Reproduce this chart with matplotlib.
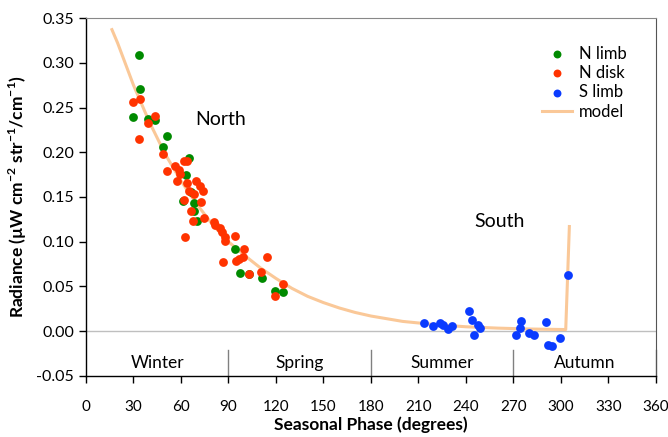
import matplotlib
matplotlib.use("Agg")
import matplotlib.pyplot as plt

plt.rcParams['font.family'] = ['Lato', 'DejaVu Sans']
plt.rcParams['mathtext.fontset'] = 'custom'
plt.rcParams['mathtext.rm'] = 'Lato'
plt.rcParams['mathtext.bf'] = 'Lato:bold'

# ---- data ----
nlimb_phase = [33.7, 34.3, 29.7, 39.0, 43.6, 51.0, 48.6, 65.0, 63.0, 66.5, 68.4, 68.4,
               69.9, 61.5, 94.1, 97.3, 103.2, 110.9, 119.6, 124.4]
nlimb_rad = [0.309, 0.271, 0.239, 0.2375, 0.236, 0.218, 0.206, 0.1935, 0.175, 0.156, 0.1435,
             0.134, 0.1234, 0.146, 0.0914, 0.0649, 0.0645, 0.060, 0.0455, 0.0436]

ndisk_phase = [29.7, 34.3, 43.6, 39.0, 33.7, 48.6, 51.0, 61.7, 63.6, 56.4, 58.7, 59.4, 57.7,
               63.6, 69.5, 71.8, 74.1, 65.3, 68.4, 61.9, 72.4, 66.1, 67.8, 74.7, 80.9, 81.3,
               84.6, 85.9, 88.0, 88.0, 62.3, 94.1, 100.0, 86.7, 94.8, 96.9, 99.4, 114.5,
               103.2, 110.5, 124.6, 119.6]
ndisk_rad = [0.256, 0.259, 0.240, 0.233, 0.215, 0.198, 0.179, 0.1905, 0.1905, 0.185, 0.180,
             0.176, 0.168, 0.166, 0.168, 0.162, 0.157, 0.157, 0.153, 0.147, 0.144, 0.134,
             0.123, 0.127, 0.122, 0.1186, 0.115, 0.111, 0.1055, 0.1007, 0.1055, 0.106, 0.092,
             0.0775, 0.0783, 0.0805, 0.0824, 0.0828, 0.0645, 0.0657, 0.0529, 0.039]

slimb_phase = [213.7, 219.0, 223.6, 225.7, 228.5, 231.0, 242.0, 243.8, 247.8, 248.7, 245.3,
               274.8, 274.2, 271.6, 279.7, 283.2, 290.4, 291.6, 294.1, 299.6, 304.7]
slimb_rad = [0.0093, 0.0056, 0.0093, 0.0067, 0.0030, 0.0056, 0.0224, 0.0123, 0.0067, 0.0041,
             -0.0037, 0.0112, 0.0034, -0.0045, -0.0019, -0.0045, 0.0104, -0.0157, -0.016,
             -0.007, 0.063]

model_phase = [16.4, 20, 30, 40, 50, 60, 70, 80, 90, 100, 110, 120, 130, 140, 150, 160, 170,
               180, 190, 200, 220, 240, 260, 280, 303, 305.3]
model_rad = [0.337, 0.322, 0.275, 0.234, 0.198, 0.168, 0.142, 0.119, 0.100, 0.085, 0.071,
             0.059, 0.048, 0.039, 0.032, 0.026, 0.021, 0.017, 0.014, 0.011, 0.0075, 0.005,
             0.0035, 0.0025, 0.0019, 0.117]

seasons = ['Winter', 'Spring', 'Summer', 'Autumn']
season_centers = [45, 135, 225, 315]
season_bounds = [90, 180, 270, 360]
xticks = list(range(0, 361, 30))
yticks = [-0.05, 0.0, 0.05, 0.10, 0.15, 0.20, 0.25, 0.30, 0.35]

# ---- figure ----
fig = plt.figure(figsize=(6.68, 4.37), dpi=100)
ax = fig.add_axes([0.1287, 0.1396, 0.9820 - 0.1287, 0.9588 - 0.1396])

ax.axhline(0, color='#BFBFBF', lw=1.0, zorder=1)
ax.plot(model_phase, model_rad, color='#FAC898', lw=2.2, zorder=2, label='model')
ms = 40
ax.scatter(nlimb_phase, nlimb_rad, s=ms, color='#008A00', zorder=3, label='N limb', linewidths=0)
ax.scatter(ndisk_phase, ndisk_rad, s=ms, color='#FF3300', zorder=4, label='N disk', linewidths=0)
ax.scatter(slimb_phase, slimb_rad, s=ms, color='#0A3BFF', zorder=5, label='S limb', linewidths=0)

for b in season_bounds:
    ax.plot([b, b], [-0.05, -0.021], color='#808080', lw=1.0, zorder=2, clip_on=False)
for name, c in zip(seasons, season_centers):
    ax.text(c, -0.035, name, ha='center', va='center', fontsize=12.5)

ax.text(85, 0.237, 'North', ha='center', va='center', fontsize=14)
ax.text(261, 0.123, 'South', ha='center', va='center', fontsize=14)

ax.set_xlim(0, 360)
ax.set_ylim(-0.05, 0.35)
ax.set_xticks(xticks)
ax.set_yticks(yticks)
ax.set_yticklabels([f'{v:.2f}' for v in yticks])
ax.tick_params(axis='both', direction='out', length=5, width=1, labelsize=11.5)
ax.tick_params(axis='x', pad=12, labelsize=11)

for s in ['left', 'bottom']:
    ax.spines[s].set_color('black')
    ax.spines[s].set_linewidth(1.0)
ax.spines['top'].set_color('#888888')
ax.spines['right'].set_color('#555555')

ax.set_xlabel('Seasonal Phase (degrees)', fontsize=12.5, fontweight='bold', labelpad=2)
ax.set_ylabel(r'Radiance (µW cm$^{\mathbf{-2}}$ str$^{\mathbf{-1}}$/cm$^{\mathbf{-1}}$)',
              fontsize=12.5, fontweight='bold', labelpad=5)

h, l = ax.get_legend_handles_labels()
order = [1, 2, 3, 0]
ax.legend([h[i] for i in order], [l[i] for i in order], loc='upper right',
          bbox_to_anchor=(0.975, 0.965), frameon=False, fontsize=12, handlelength=1.8,
          handletextpad=0.4, labelspacing=0.2, markerscale=0.9)

fig.savefig('out.png', dpi=100)
